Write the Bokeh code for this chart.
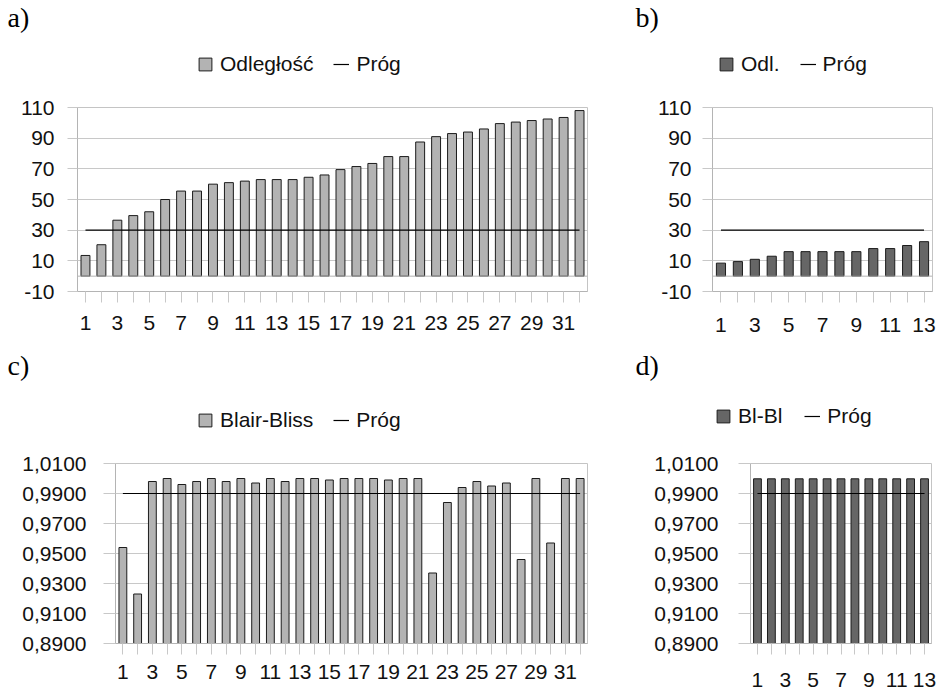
from bokeh.plotting import figure
from bokeh.models import (ColumnDataSource, FixedTicker, Legend, LegendItem,
                          Label, Span, Range1d)
from bokeh.layouts import column, row
from bokeh.embed import file_html
from bokeh.resources import INLINE

# ---------------- data ----------------
a_categories = list(range(1, 33))
a_values = [13.5, 20.5, 36.5, 39.5, 42, 50, 55.5, 55.5, 60, 61, 62, 63, 63, 63,
            64.5, 66, 69.5, 71.5, 73.5, 78, 78, 87.5, 91, 93, 94, 96, 99.5,
            100.5, 101.5, 102.5, 103.5, 108]
a_series = "Odległość"

b_categories = list(range(1, 14))
b_values = [8.5, 9.5, 11, 13, 16, 16, 16, 16, 16, 18, 18, 20, 22.5]
b_series = "Odl."

c_categories = list(range(1, 33))
c_values = [0.954, 0.923, 0.998, 1.000, 0.996, 0.998, 1.000, 0.998, 1.000,
            0.997, 1.000, 0.998, 1.000, 1.000, 0.999, 1.000, 1.000, 1.000,
            0.999, 1.000, 1.000, 0.937, 0.984, 0.994, 0.998, 0.995, 0.997,
            0.946, 1.000, 0.957, 1.000, 1.000]
c_series = "Blair-Bliss"

d_categories = list(range(1, 14))
d_values = [0.9998, 0.9998, 0.9998, 0.9998, 0.9998, 0.9998, 0.9998, 0.9998,
            0.9998, 0.9998, 0.9998, 0.9998, 0.9998]
d_series = "Bl-Bl"

threshold_name = "Próg"
dist_threshold = 30
bb_threshold = 0.99

dist_ticks = [-10, 10, 30, 50, 70, 90, 110]
dist_tick_labels = ["-10", "10", "30", "50", "70", "90", "110"]
bb_ticks = [0.89, 0.91, 0.93, 0.95, 0.97, 0.99, 1.01]
bb_tick_labels = ["0,8900", "0,9100", "0,9300", "0,9500", "0,9700", "0,9900",
                  "1,0100"]

# ---------------- style ----------------
FONT = "Liberation Sans"
SERIF = "Liberation Serif"
GRID = "#c8c8c8"
AXIS = "#b4b4b4"
LIGHT_BAR = "#b3b3b3"
DARK_BAR = "#666666"
EDGE = "#1c1c1c"
TXT = "#111111"


def make_source(cats, vals, thr):
    return ColumnDataSource(dict(x=cats, top=vals, thr=[thr] * len(cats)))


def header(width, height, panels):
    """A strip holding the panel letters and the legends of one row."""
    h = figure(width=width, height=height, output_backend="svg",
               toolbar_location=None, x_range=Range1d(-3, -2),
               y_range=Range1d(0, 1), x_axis_type=None, y_axis_type=None,
               min_border_left=0, min_border_right=0, min_border_top=0,
               min_border_bottom=0)
    h.outline_line_color = None
    h.background_fill_color = "white"
    h.border_fill_color = "white"
    for (src, base, bar_w, series, letter, fill, letter_xy, legend_xy,
         spacing) in panels:
        # same series as the chart; the strip's x range keeps them out of view
        sw = h.vbar(x="x", top="top", bottom=base, width=bar_w, source=src,
                    fill_color=fill, line_color=EDGE, line_width=1)
        ln = h.line(x="x", y="thr", source=src, line_color="black",
                    line_width=1.2)
        legend = Legend(items=[LegendItem(label=series, renderers=[sw]),
                               LegendItem(label=threshold_name,
                                          renderers=[ln])],
                        location=legend_xy, orientation="horizontal",
                        border_line_color=None, background_fill_alpha=0,
                        padding=0, margin=0, spacing=spacing,
                        label_standoff=7, glyph_width=16, glyph_height=16,
                        label_height=15, label_text_font=FONT,
                        label_text_font_size="21px",
                        label_text_baseline="middle", label_text_color=TXT)
        h.add_layout(legend)
        h.add_layout(Label(x=letter_xy[0], y=letter_xy[1], x_units="screen",
                           y_units="screen", text=letter, text_font=SERIF,
                           text_font_size="28px", text_color="black"))
    return h


def chart(src, n, *, width, height, bl, br, bt, bb, y_start, y_end, base,
          yticks, ylabels, fill, bar_w, ytick_out, ystand, xstand, zero_line,
          cats):
    p = figure(width=width, height=height, output_backend="svg",
               toolbar_location=None, min_border_left=bl,
               min_border_right=br, min_border_top=bt, min_border_bottom=bb,
               x_range=Range1d(0.5, n + 0.5),
               y_range=Range1d(y_start, y_end))
    p.background_fill_color = "white"
    p.border_fill_color = "white"
    p.outline_line_color = "#c4c4c4"

    if zero_line:
        p.add_layout(Span(location=0, dimension="width", line_color=AXIS,
                          line_width=1))

    p.vbar(x="x", top="top", bottom=base, width=bar_w, source=src,
           fill_color=fill, line_color=EDGE, line_width=1)
    p.line(x="x", y="thr", source=src, line_color="black", line_width=1.2)

    yt = FixedTicker(ticks=yticks)
    p.yaxis.ticker = yt
    p.yaxis.major_label_overrides = dict(zip(yticks, ylabels))
    p.yaxis.major_tick_out = ytick_out
    p.yaxis.major_tick_in = 0
    p.yaxis.minor_tick_line_color = None
    p.yaxis.major_tick_line_color = GRID
    p.yaxis.axis_line_color = AXIS
    p.yaxis.major_label_standoff = ystand
    p.yaxis.major_label_text_font = FONT
    p.yaxis.major_label_text_font_size = "21px"
    p.yaxis.major_label_text_color = TXT
    p.ygrid.ticker = yt
    p.ygrid.grid_line_color = GRID
    p.xgrid.visible = False

    p.xaxis.ticker = FixedTicker(ticks=cats)
    p.xaxis.major_label_overrides = {c: (str(c) if c % 2 else "")
                                     for c in cats}
    p.xaxis.major_tick_out = 11
    p.xaxis.major_tick_in = 0
    p.xaxis.minor_tick_line_color = None
    p.xaxis.major_tick_line_color = GRID
    p.xaxis.axis_line_color = AXIS
    p.xaxis.major_label_standoff = xstand
    p.xaxis.major_label_text_font = FONT
    p.xaxis.major_label_text_font_size = "21px"
    p.xaxis.major_label_text_color = TXT
    return p


src_a = make_source(a_categories, a_values, dist_threshold)
src_b = make_source(b_categories, b_values, dist_threshold)
src_c = make_source(c_categories, c_values, bb_threshold)
src_d = make_source(d_categories, d_values, bb_threshold)

top_head = header(938, 90, [
    (src_a, 0, 0.56, a_series, "a)", LIGHT_BAR, (7, 58), (197, 14), 20),
    (src_b, 0, 0.54, b_series, "b)", DARK_BAR, (635, 58), (718, 14), 20),
])
pa = chart(src_a, len(a_categories), width=600, height=260, bl=77, br=13,
           bt=16, bb=57, y_start=-10, y_end=110, base=0, yticks=dist_ticks,
           ylabels=dist_tick_labels, fill=LIGHT_BAR, bar_w=0.56,
           ytick_out=10, ystand=13, xstand=13, zero_line=True,
           cats=a_categories)
pb = chart(src_b, len(b_categories), width=338, height=260, bl=112, br=6,
           bt=17, bb=59, y_start=-10, y_end=110, base=0, yticks=dist_ticks,
           ylabels=dist_tick_labels, fill=DARK_BAR, bar_w=0.54,
           ytick_out=10, ystand=11, xstand=15, zero_line=True,
           cats=b_categories)

bottom_head = header(938, 90, [
    (src_c, 0.89, 0.53, c_series, "c)", LIGHT_BAR, (7, 60), (197, 8), 20),
    (src_d, 0.89, 0.56, d_series, "d)", DARK_BAR, (635, 60), (715, 12), 22),
])
pc = chart(src_c, len(c_categories), width=600, height=255, bl=115, br=13,
           bt=23, bb=44, y_start=0.89, y_end=1.01, base=0.89,
           yticks=bb_ticks, ylabels=bb_tick_labels, fill=LIGHT_BAR,
           bar_w=0.53, ytick_out=12, ystand=17, xstand=10, zero_line=False,
           cats=c_categories)
pd_ = chart(src_d, len(d_categories), width=338, height=255, bl=150, br=7,
            bt=18, bb=52, y_start=0.89, y_end=1.01, base=0.89,
            yticks=bb_ticks, ylabels=bb_tick_labels, fill=DARK_BAR,
            bar_w=0.56, ytick_out=12, ystand=20, xstand=18, zero_line=False,
            cats=d_categories)

layout = column(top_head, row(pa, pb), bottom_head, row(pc, pd_))

open("out.html", "w").write(file_html(layout, INLINE))
